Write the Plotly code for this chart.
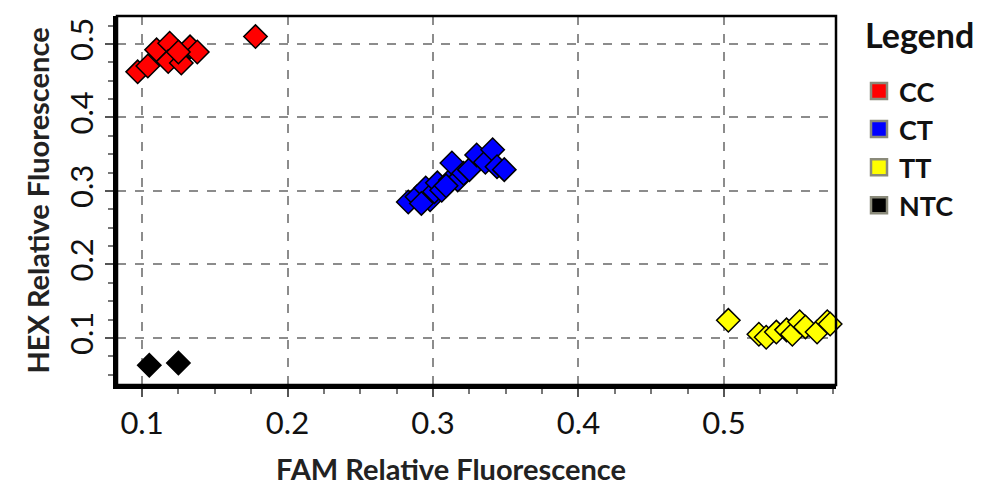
import plotly.graph_objects as go

# ---- data ----
cc_fam = [0.097, 0.104, 0.110, 0.119, 0.118, 0.127, 0.133, 0.138, 0.125, 0.178]
cc_hex = [0.462, 0.470, 0.492, 0.501, 0.476, 0.474, 0.496, 0.489, 0.489, 0.510]

ct_fam = [0.283, 0.289, 0.298, 0.295, 0.301, 0.303, 0.306, 0.312, 0.317, 0.313,
          0.321, 0.325, 0.330, 0.336, 0.341, 0.344, 0.349, 0.292, 0.309]
ct_hex = [0.285, 0.292, 0.288, 0.304, 0.299, 0.311, 0.301, 0.315, 0.315, 0.338,
          0.324, 0.329, 0.349, 0.339, 0.356, 0.333, 0.329, 0.283, 0.307]

tt_fam = [0.503, 0.524, 0.529, 0.536, 0.543, 0.547, 0.552, 0.556, 0.564, 0.571, 0.573]
tt_hex = [0.124, 0.105, 0.101, 0.108, 0.111, 0.105, 0.122, 0.115, 0.108, 0.122, 0.119]

ntc_fam = [0.105, 0.125]
ntc_hex = [0.063, 0.066]

groups = ["CC", "CT", "TT", "NTC"]
colors = ["#ff0000", "#0000ff", "#ffff00", "#000000"]
xs = [cc_fam, ct_fam, tt_fam, ntc_fam]
ys = [cc_hex, ct_hex, tt_hex, ntc_hex]

x_ticks = [0.1, 0.2, 0.3, 0.4, 0.5]
y_ticks = [0.1, 0.2, 0.3, 0.4, 0.5]

FONT = "Lato"

fig = go.Figure()
for name, col, x, y in zip(groups, colors, xs, ys):
    fig.add_trace(go.Scatter(
        x=x, y=y, mode="markers", name=name, showlegend=False, cliponaxis=False,
        marker=dict(symbol="diamond", size=18, color=col,
                    line=dict(color="black", width=1.5)),
    ))
# legend entries with square swatches
for name, col in zip(groups, colors):
    fig.add_trace(go.Scatter(
        x=[None], y=[None], mode="markers", name=f"<b>{name}</b>", showlegend=True,
        marker=dict(symbol="square", size=16, color=col,
                    line=dict(color="#8a8a7a", width=2.5)),
    ))

axis_common = dict(
    showline=True, linecolor="black", linewidth=4, mirror=False,
    showgrid=True, gridcolor="#8c8c8c", gridwidth=2, griddash="dash",
    zeroline=False, ticks="outside", ticklen=8, tickwidth=2, tickcolor="#555555",
    minor=dict(ticks="outside", ticklen=5, tickwidth=1.5, tickcolor="#777777",
               dtick=0.025, showgrid=False),
    tickfont=dict(family=FONT, size=31, color="#111111"),
)

fig.update_layout(
    width=987, height=492,
    margin=dict(l=117, r=151, t=16, b=107),
    paper_bgcolor="white", plot_bgcolor="white",
    xaxis=dict(range=[0.0828, 0.577], tickvals=x_ticks,
               ticktext=[f"{v:.1f}" for v in x_ticks],
               **axis_common),
    yaxis=dict(range=[0.036, 0.538], tickvals=y_ticks,
               ticktext=[f"{v:.1f}" for v in y_ticks], tickangle=-90,
               title=dict(text="<b>HEX Relative Fluorescence</b>",
                          font=dict(family=FONT, size=29, color="#222222"),
                          standoff=4),
               **axis_common),
    legend=dict(x=1.032, y=0.862, xanchor="left", yanchor="top",
                font=dict(family=FONT, size=27, color="#111111"),
                bgcolor="rgba(0,0,0,0)", itemwidth=30, tracegroupgap=0),
    annotations=[
        dict(text="<b>Legend</b>", xref="paper", yref="paper",
             x=1.038, y=1.01, xanchor="left", yanchor="top", showarrow=False,
             font=dict(family=FONT, size=34, color="#111111")),
        dict(text="<b>FAM Relative Fluorescence</b>", xref="paper", yref="paper",
             x=0.4645, y=-0.225, xanchor="center", yanchor="middle", showarrow=False,
             font=dict(family=FONT, size=29, color="#222222")),
    ],
    shapes=[dict(type="rect", xref="paper", yref="paper", x0=0, y0=0, x1=1, y1=1,
                 line=dict(color="black", width=2.5), layer="above")],
)

fig.write_html("out.html")
